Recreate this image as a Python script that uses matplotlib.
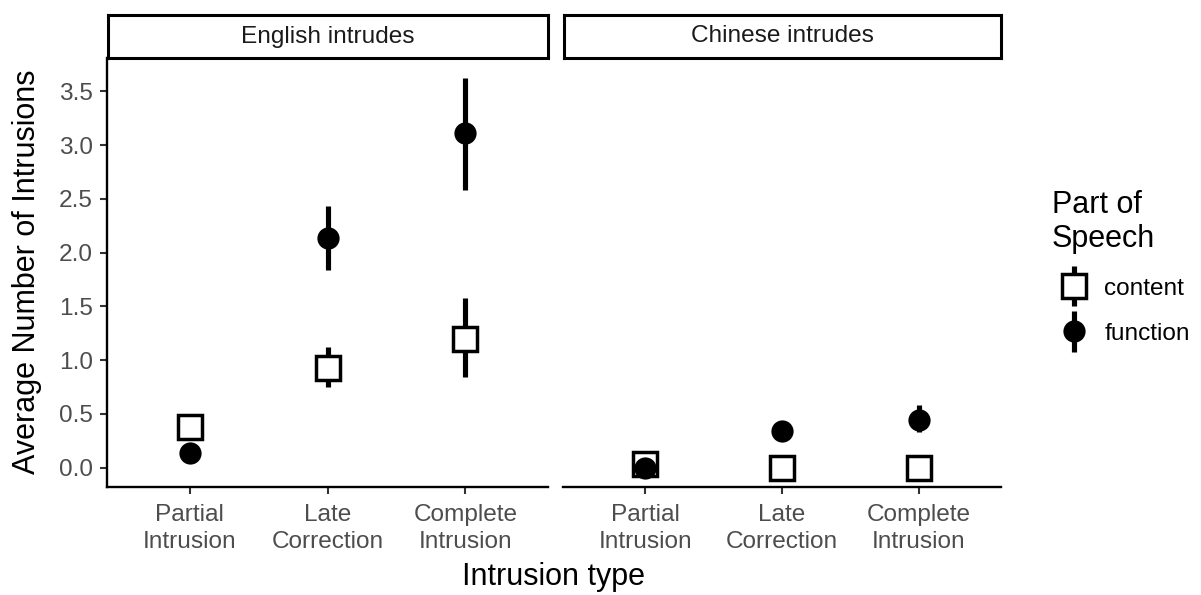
import matplotlib
matplotlib.use('Agg')
import matplotlib.pyplot as plt
from matplotlib.legend_handler import HandlerErrorbar
import numpy as np

plt.rcParams['font.family'] = ['Liberation Sans', 'DejaVu Sans']

# categories and facets
categories = ['Partial\nIntrusion', 'Late\nCorrection', 'Complete\nIntrusion']
facets = ['English intrudes', 'Chinese intrudes']

# English intrudes: mean, lower, upper
eng_content = [0.38, 0.93, 1.20]
eng_content_lo = [0.32, 0.75, 0.84]
eng_content_hi = [0.44, 1.12, 1.58]
eng_function = [0.14, 2.14, 3.11]
eng_function_lo = [0.09, 1.84, 2.58]
eng_function_hi = [0.19, 2.43, 3.62]

# Chinese intrudes: mean, lower, upper
chi_content = [0.03, 0.0, 0.0]
chi_content_lo = [0.0, 0.0, 0.0]
chi_content_hi = [0.06, 0.0, 0.0]
chi_function = [0.0, 0.34, 0.44]
chi_function_lo = [0.0, 0.29, 0.33]
chi_function_hi = [0.0, 0.39, 0.58]

yticks = [0.0, 0.5, 1.0, 1.5, 2.0, 2.5, 3.0, 3.5]

W, H = 1201, 595
fig = plt.figure(figsize=(W / 100, H / 100), dpi=100)

def px_axes(x0, y0, x1, y1):
    # pixel box (top-left origin) -> figure axes
    return fig.add_axes([x0 / W, 1 - y1 / H, (x1 - x0) / W, (y1 - y0) / H])

panels = [(107, 548), (563, 1001)]
data = [
    (eng_content, eng_content_lo, eng_content_hi, eng_function, eng_function_lo, eng_function_hi),
    (chi_content, chi_content_lo, chi_content_hi, chi_function, chi_function_lo, chi_function_hi),
]

tick_col = '#333333'
lab_col = '#4D4D4D'
small = 17.6
big = 22

handles = None
for i, ((x0, x1), name, d) in enumerate(zip(panels, facets, data)):
    ax = px_axes(x0, 58, x1, 487)
    c, clo, chi, f, flo, fhi = d
    x = np.arange(1, len(categories) + 1)
    c = np.array(c); f = np.array(f)
    hc = ax.errorbar(x, c, yerr=[c - np.array(clo), np.array(chi) - c], fmt='s',
                     ms=17.5, mfc='white', mec='black', mew=2.5, ecolor='black',
                     elinewidth=3.7, capsize=0, zorder=2, label='content')
    hf = ax.errorbar(x, f, yerr=[f - np.array(flo), np.array(fhi) - f], fmt='o',
                     ms=16, mfc='black', mec='black', mew=0, ecolor='black',
                     elinewidth=3.7, capsize=0, zorder=3, label='function')
    if handles is None:
        handles = [hc, hf]
    ax.set_xlim(0.4, 3.6)
    ax.set_ylim(-0.18, 3.81)
    ax.set_xticks(x)
    ax.set_xticklabels(categories, fontsize=small, color=lab_col, linespacing=1.25)
    ax.set_yticks(yticks)
    ax.set_yticklabels(['%.1f' % v for v in yticks], fontsize=small, color=lab_col)
    for s in ['top', 'right']:
        ax.spines[s].set_visible(False)
    ax.spines['bottom'].set_linewidth(1.7)
    ax.spines['left'].set_linewidth(1.7)
    ax.tick_params(axis='both', length=5, width=1.5, color=tick_col)
    ax.tick_params(axis='x', pad=7.5)
    ax.tick_params(axis='y', pad=5)
    if i == 1:
        ax.spines['left'].set_visible(False)
        ax.tick_params(axis='y', left=False, labelleft=False)

    # facet strip
    sax = px_axes(x0 + 1, 15, x1, 58)
    sax.set_xticks([]); sax.set_yticks([])
    for s in sax.spines.values():
        s.set_linewidth(2.2)
    sax.text(0.5, 0.5, name, ha='center', va='center', fontsize=small, color='#1A1A1A',
             transform=sax.transAxes)

fig.text(27 / W, 1 - 272 / H, 'Average Number of Intrusions', rotation=90,
         ha='center', va='center', fontsize=big)
fig.text(554 / W, 1 - 577 / H, 'Intrusion type', ha='center', va='center', fontsize=big)

leg = fig.legend(handles, ['content', 'function'], title='Part of\nSpeech',
                 loc='upper left', bbox_to_anchor=(1042 / W, 1 - 180 / H),
                 frameon=False, fontsize=small, title_fontsize=big,
                 alignment='left', handlelength=1.8, handletextpad=0.35,
                 labelspacing=0.95, borderaxespad=0,
                 handler_map={type(handles[0]): HandlerErrorbar(yerr_size=0.82)})

fig.savefig('out.png', dpi=100)
